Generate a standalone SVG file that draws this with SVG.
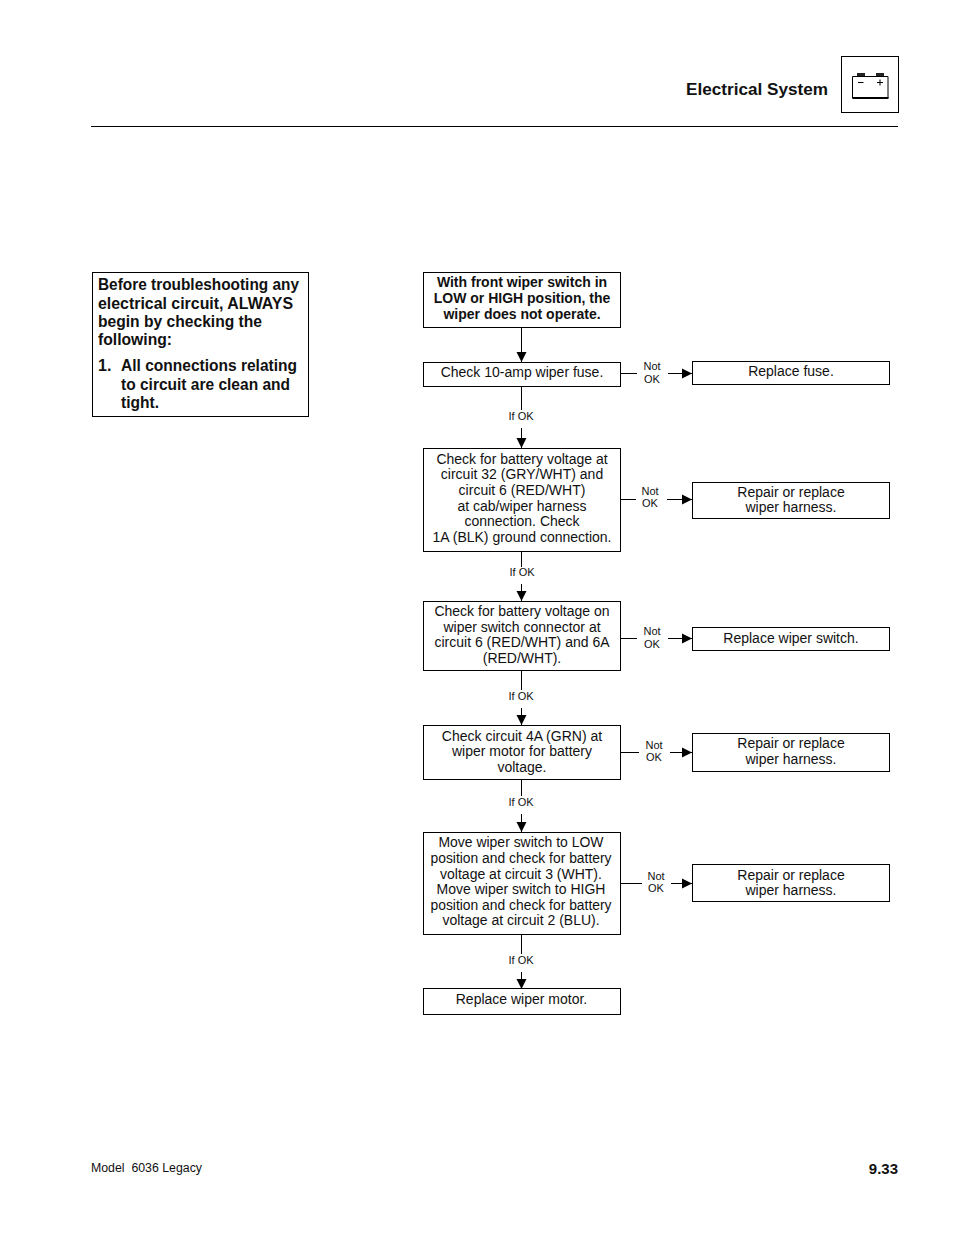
<svg xmlns="http://www.w3.org/2000/svg" width="954" height="1235" viewBox="0 0 954 1235">
<style>
text{font-family:"Liberation Sans",Arial,sans-serif;fill:#111}
.n{font-size:14px;text-anchor:middle}
.b{font-size:14px;text-anchor:middle;font-weight:bold}
.w{font-size:16px;font-weight:bold}
.s{font-size:11px;text-anchor:middle}
rect{fill:#fff;stroke:#000;stroke-width:1}
.c line{stroke:#000;stroke-width:1}
</style>
<defs><marker id="a" markerUnits="userSpaceOnUse" markerWidth="12" markerHeight="12" refX="10" refY="6" orient="auto"><path d="M0,1L10,6L0,11Z" fill="#000"/></marker></defs>
<rect width="954" height="1235" style="fill:#fff;stroke:none"/>
<g id="header">
<text x="686" y="95" textLength="142" lengthAdjust="spacingAndGlyphs" style="font-size:16.500px;font-weight:bold">Electrical System</text>
<rect x="841.500" y="56.500" width="57" height="56"/>
<path d="M852.500 76.500H888V98H852.500Z" fill="none" stroke="#000" stroke-width="1"/>
<path d="M852.500 98H888.500" stroke="#000" stroke-width="2"/>
<rect x="857" y="73" width="8" height="3" style="fill:#222;stroke:none"/>
<rect x="876" y="73" width="8" height="3" style="fill:#222;stroke:none"/>
<path d="M858 82.500H863.500M877 82.500H883M880 79.500V85.500" stroke="#000" stroke-width="1"/>
<line x1="91" y1="126.500" x2="898" y2="126.500" stroke="#000"/>
</g>
<g id="note">
<rect x="92.500" y="272.500" width="216" height="144"/>
<text class="w" x="98" y="290" textLength="201" lengthAdjust="spacingAndGlyphs">Before troubleshooting any</text>
<text class="w" x="98" y="309" textLength="195" lengthAdjust="spacingAndGlyphs">electrical circuit, ALWAYS</text>
<text class="w" x="98" y="327" textLength="164" lengthAdjust="spacingAndGlyphs">begin by checking the</text>
<text class="w" x="98" y="345" textLength="74" lengthAdjust="spacingAndGlyphs">following:</text>
<text class="w" x="98" y="371">1.</text>
<text class="w" x="121" y="371" textLength="176" lengthAdjust="spacingAndGlyphs">All connections relating</text>
<text class="w" x="121" y="390" textLength="169" lengthAdjust="spacingAndGlyphs">to circuit are clean and</text>
<text class="w" x="121" y="408" textLength="38" lengthAdjust="spacingAndGlyphs">tight.</text>
</g>
<g class="c" id="connectors">
<line x1="521.500" y1="328" x2="521.500" y2="362" marker-end="url(#a)"/>
<line x1="521.500" y1="386" x2="521.500" y2="410"/><line x1="521.500" y1="428" x2="521.500" y2="448" marker-end="url(#a)"/>
<line x1="521.500" y1="552" x2="521.500" y2="567"/><line x1="521.500" y1="584" x2="521.500" y2="601" marker-end="url(#a)"/>
<line x1="521.500" y1="671" x2="521.500" y2="690"/><line x1="521.500" y1="708" x2="521.500" y2="725" marker-end="url(#a)"/>
<line x1="521.500" y1="780" x2="521.500" y2="796"/><line x1="521.500" y1="814" x2="521.500" y2="832" marker-end="url(#a)"/>
<line x1="521.500" y1="935" x2="521.500" y2="954"/><line x1="521.500" y1="972" x2="521.500" y2="989" marker-end="url(#a)"/>
<line x1="621" y1="373.500" x2="637" y2="373.500"/><line x1="668" y1="373.500" x2="692" y2="373.500" marker-end="url(#a)"/>
<line x1="621" y1="499.500" x2="636" y2="499.500"/><line x1="667" y1="499.500" x2="692" y2="499.500" marker-end="url(#a)"/>
<line x1="621" y1="638.500" x2="637" y2="638.500"/><line x1="668" y1="638.500" x2="692" y2="638.500" marker-end="url(#a)"/>
<line x1="621" y1="752.500" x2="639" y2="752.500"/><line x1="670" y1="752.500" x2="692" y2="752.500" marker-end="url(#a)"/>
<line x1="621" y1="883.500" x2="642" y2="883.500"/><line x1="671" y1="883.500" x2="692" y2="883.500" marker-end="url(#a)"/>
<text class="s" x="521" y="420">If OK</text>
<text class="s" x="522" y="576">If OK</text>
<text class="s" x="521" y="700">If OK</text>
<text class="s" x="521" y="806">If OK</text>
<text class="s" x="521" y="964">If OK</text>
<text class="s" x="652" y="370">Not</text><text class="s" x="652" y="383">OK</text>
<text class="s" x="650" y="495">Not</text><text class="s" x="650" y="507">OK</text>
<text class="s" x="652" y="635">Not</text><text class="s" x="652" y="648">OK</text>
<text class="s" x="654" y="749">Not</text><text class="s" x="654" y="761">OK</text>
<text class="s" x="656" y="880">Not</text><text class="s" x="656" y="892">OK</text>
</g>
<g id="start"><rect x="423.500" y="272.500" width="197" height="55"/>
<text class="b" x="522" y="287">With front wiper switch in</text><text class="b" x="522" y="303">LOW or HIGH position, the</text><text class="b" x="522" y="319">wiper does not operate.</text></g>
<g id="fuse"><rect x="423.500" y="362.500" width="197" height="24"/><text class="n" x="522" y="377">Check 10-amp wiper fuse.</text></g>
<g id="battery1"><rect x="423.500" y="448.500" width="197" height="103"/>
<text class="n" x="522" y="464">Check for battery voltage at</text><text class="n" x="522" y="479">circuit 32 (GRY/WHT) and</text><text class="n" x="522" y="495">circuit 6 (RED/WHT)</text><text class="n" x="522" y="511">at cab/wiper harness</text><text class="n" x="522" y="526">connection. Check</text><text class="n" x="522" y="542">1A (BLK) ground connection.</text></g>
<g id="battery2"><rect x="423.500" y="601.500" width="197" height="69"/>
<text class="n" x="522" y="616">Check for battery voltage on</text><text class="n" x="522" y="632">wiper switch connector at</text><text class="n" x="522" y="647">circuit 6 (RED/WHT) and 6A</text><text class="n" x="522" y="663">(RED/WHT).</text></g>
<g id="circuit4a"><rect x="423.500" y="725.500" width="197" height="54"/>
<text class="n" x="522" y="741">Check circuit 4A (GRN) at</text><text class="n" x="522" y="756">wiper motor for battery</text><text class="n" x="522" y="772">voltage.</text></g>
<g id="move"><rect x="423.500" y="832.500" width="197" height="102"/>
<text class="n" x="521" y="847" textLength="165" lengthAdjust="spacingAndGlyphs">Move wiper switch to LOW</text><text class="n" x="521" y="863" textLength="181" lengthAdjust="spacingAndGlyphs">position and check for battery</text><text class="n" x="521" y="879">voltage at circuit 3 (WHT).</text><text class="n" x="521" y="894">Move wiper switch to HIGH</text><text class="n" x="521" y="910" textLength="181" lengthAdjust="spacingAndGlyphs">position and check for battery</text><text class="n" x="521" y="925">voltage at circuit 2 (BLU).</text></g>
<g id="motor"><rect x="423.500" y="988.500" width="197" height="26"/><text class="n" x="521.500" y="1004">Replace wiper motor.</text></g>
<g id="r1"><rect x="692.500" y="361.500" width="197" height="23"/><text class="n" x="791" y="376">Replace fuse.</text></g>
<g id="r2"><rect x="692.500" y="482.500" width="197" height="36"/><text class="n" x="791" y="497">Repair or replace</text><text class="n" x="791" y="512">wiper harness.</text></g>
<g id="r3"><rect x="692.500" y="627.500" width="197" height="23"/><text class="n" x="791" y="643">Replace wiper switch.</text></g>
<g id="r4"><rect x="692.500" y="733.500" width="197" height="38"/><text class="n" x="791" y="748">Repair or replace</text><text class="n" x="791" y="764">wiper harness.</text></g>
<g id="r5"><rect x="692.500" y="864.500" width="197" height="37"/><text class="n" x="791" y="880">Repair or replace</text><text class="n" x="791" y="895">wiper harness.</text></g>
<g id="footer"><text x="91" y="1172" xml:space="preserve" textLength="111" lengthAdjust="spacingAndGlyphs" style="font-size:12.500px">Model  6036 Legacy</text><text x="898" y="1174" text-anchor="end" style="font-size:15px;font-weight:bold">9.33</text></g>
</svg>
